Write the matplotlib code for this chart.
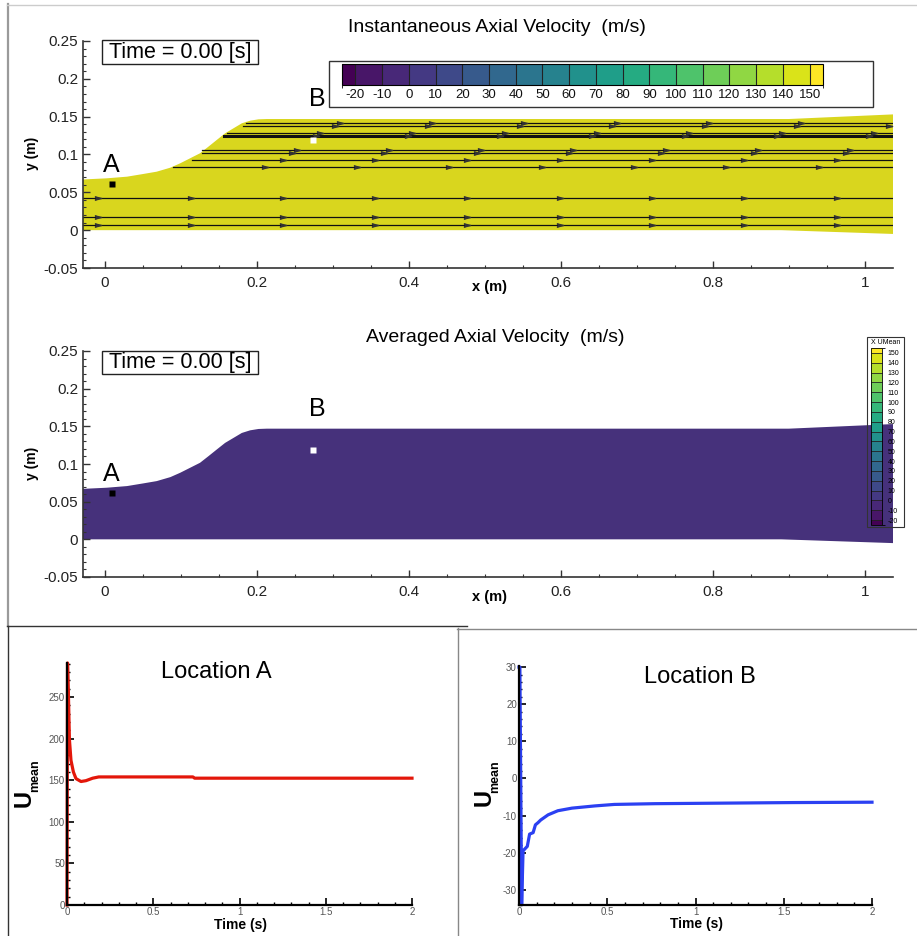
import numpy as np
import matplotlib
matplotlib.use('Agg')
import matplotlib.pyplot as plt
from matplotlib.colors import ListedColormap, BoundaryNorm
from matplotlib.cm import ScalarMappable
from matplotlib.lines import Line2D
from matplotlib.patches import Rectangle, Polygon
from matplotlib.path import Path
from matplotlib.ticker import MultipleLocator, FuncFormatter

plt.rcParams['font.family'] = ['Liberation Sans', 'DejaVu Sans']
plt.rcParams['axes.unicode_minus'] = False

# ---------------- data ----------------
wall_x = [-0.029, 0.002, 0.029, 0.050, 0.068, 0.086, 0.099, 0.112, 0.125, 0.136, 0.147,
          0.158, 0.169, 0.180, 0.191, 0.202, 0.213, 0.90, 1.037]
wall_top = [0.067, 0.0685, 0.0707, 0.0742, 0.0773, 0.0826, 0.0884, 0.0950, 0.1016, 0.1103,
            0.1192, 0.1280, 0.1346, 0.1412, 0.1447, 0.1465, 0.1469, 0.1469, 0.153]
wall_bot_x = [-0.029, 0.89, 1.037]
wall_bot = [0.0, 0.0, -0.005]

probe_A = (0.0088, 0.061)
probe_B = (0.274, 0.119)

stream_y = [0.0064, 0.018, 0.043, 0.083, 0.093, 0.102, 0.106, 0.125, 0.129, 0.138, 0.142]
stream_x0 = [-0.029, -0.029, -0.029, 0.089, 0.114, 0.127, 0.127, 0.157, 0.160, 0.182, 0.185]
stream_arrow0 = [-0.009, -0.009, -0.009, 0.0885, -0.009, 0.003, 0.009, 0.034, 0.040, 0.060, 0.066]
stream_thick = [0, 0, 0, 0, 0, 0, 0, 1, 0, 0, 0]

levels = [-20, -10, 0, 10, 20, 30, 40, 50, 60, 70, 80, 90, 100, 110, 120, 130, 140, 150]
level_ends = [-25, 155]

time_A = [0.0, 0.003, 0.008, 0.014, 0.023, 0.037, 0.052, 0.081, 0.11, 0.149, 0.184, 0.73, 0.74, 2.0]
u_A = [0.0, 291, 255, 199, 174, 160, 152, 148.5, 149.5, 152.5, 154, 154, 152.5, 152.5]

time_B = [0.0, 0.005, 0.015, 0.023, 0.047, 0.06, 0.08, 0.093, 0.108, 0.123, 0.165, 0.22, 0.30,
          0.43, 0.54, 0.77, 1.03, 1.55, 2.0]
u_B = [30.0, 30.0, -34.0, -19.5, -18.3, -15.0, -14.6, -12.5, -11.9, -11.2, -9.8, -8.7, -8.0,
       -7.4, -7.0, -6.8, -6.7, -6.5, -6.4]

# ---------------- layout helpers ----------------
W, H = 917, 936
fig = plt.figure(figsize=(W / 100, H / 100), dpi=100)


def rect(l, t, r, b):
    return [l / W, 1 - b / H, (r - l) / W, (b - t) / H]


def fline(x1, y1, x2, y2, color, lw):
    fig.add_artist(Line2D([x1 / W, x2 / W], [1 - y1 / H, 1 - y2 / H],
                          transform=fig.transFigure, color=color, lw=lw))


def ftext(x, y, s, **kw):
    return fig.text(x / W, 1 - y / H, s, **kw)


def fmt(v, p):
    v = round(v, 6) + 0.0
    if v == 0:
        return '0'
    return f'{v:g}'


chevron = Path([(-1, 0.5), (1, 0), (-1, -0.5), (-0.4, 0), (-1, 0.5)],
               [Path.MOVETO, Path.LINETO, Path.LINETO, Path.LINETO, Path.CLOSEPOLY])

cmap = ListedColormap(plt.cm.viridis(np.linspace(0, 1, len(levels) + 1)))
bounds = [level_ends[0]] + levels + [level_ends[1]]
norm = BoundaryNorm(bounds, cmap.N)

verts = list(zip(wall_x, wall_top)) + list(zip(wall_bot_x[::-1], wall_bot[::-1]))


def field_panel(top, bottom, face, streams):
    ax = fig.add_axes(rect(83, top, 893, bottom))
    ax.add_patch(Polygon(verts, closed=True, facecolor=face, edgecolor='none', zorder=1))
    ax.set_xlim(-0.029, 1.037)
    ax.set_ylim(-0.05, 0.25)
    for s in ('top', 'right'):
        ax.spines[s].set_visible(False)
    for s in ('left', 'bottom'):
        ax.spines[s].set_linewidth(1.2)
        ax.spines[s].set_color('#333333')
    ax.xaxis.set_major_locator(MultipleLocator(0.2))
    ax.xaxis.set_minor_locator(MultipleLocator(0.05))
    ax.yaxis.set_major_locator(MultipleLocator(0.05))
    ax.yaxis.set_minor_locator(MultipleLocator(0.01))
    ax.xaxis.set_major_formatter(FuncFormatter(fmt))
    ax.yaxis.set_major_formatter(FuncFormatter(fmt))
    ax.tick_params(which='major', direction='in', length=5, width=1, labelsize=11,
                   colors='#333333', labelcolor='#222222')
    ax.tick_params(which='minor', direction='in', length=2.5, width=0.8, colors='#333333')
    ax.tick_params(axis='x', pad=6)
    ax.set_facecolor('none')
    if streams:
        for y, x0, a0, thick in zip(stream_y, stream_x0, stream_arrow0, stream_thick):
            ax.plot([x0, 1.037], [y, y], color='#111111', lw=2.2 if thick else 0.9, zorder=2)
            ax_x = np.arange(a0, 1.037, 0.1215)
            ax_x = ax_x[ax_x > x0 + 0.005]
            ax.plot(ax_x, [y] * len(ax_x), linestyle='none', marker=chevron, ms=4.5,
                    color='#333333', zorder=3)
    ax.plot([probe_A[0]], [probe_A[1]], marker='s', ms=5, color='black', mec='none', zorder=4)
    ax.plot([probe_B[0]], [probe_B[1]], marker='s', ms=5, color='white', mec='none', zorder=4)
    ax.text(0.008, 0.0769, 'A', fontsize=18, ha='center', va='baseline', zorder=5)
    ax.text(0.280, 0.164, 'B', fontsize=18, ha='center', va='baseline', zorder=5)
    return ax


# ---------------- frames ----------------
fline(7.5, 4, 7.5, 626, '#9a9a9a', 1.6)
fline(7, 4.5, 917, 4.5, '#cccccc', 1.0)
fline(7, 626, 467, 626, '#333333', 1.0)
fline(7.5, 626, 7.5, 936, '#333333', 1.0)
fline(457, 628.5, 917, 628.5, '#888888', 1.0)
fline(457.5, 628, 457.5, 936, '#888888', 1.0)

# ---------------- top panel ----------------
ax1 = field_panel(41, 268, '#d9d61e', True)
ftext(497, 27, 'Instantaneous Axial Velocity  (m/s)', fontsize=14, ha='center', va='center')
ftext(32, 153, 'y (m)', fontsize=10, fontweight='bold', rotation=90, ha='center', va='center')
ftext(490, 287, 'x (m)', fontsize=10.5, fontweight='bold', ha='center', va='center')
fig.add_artist(Rectangle((101.5 / W, 1 - 63.5 / H), (258 - 101.5) / W, 23 / H,
                         transform=fig.transFigure, fill=False, ec='#222222', lw=1))
ftext(180, 52.5, 'Time = 0.00 [s]', fontsize=15.5, ha='center', va='center')

fig.add_artist(Rectangle((329 / W, 1 - 107 / H), (873 - 329) / W, 46 / H,
                         transform=fig.transFigure, fill=False, ec='#333333', lw=1))
cax = fig.add_axes(rect(342, 64, 823, 85))
cb = fig.colorbar(ScalarMappable(norm=norm, cmap=cmap), cax=cax, orientation='horizontal',
                  spacing='proportional', ticks=levels, drawedges=True)
cb.ax.tick_params(length=0, labelsize=9.5, pad=3, labelcolor='#111111')
cb.outline.set_linewidth(0.8)
cb.dividers.set_linewidth(0.8)
cb.dividers.set_color('#222222')

# ---------------- middle panel ----------------
ax2 = field_panel(351, 577, '#46317b', False)
ftext(495, 337, 'Averaged Axial Velocity  (m/s)', fontsize=14, ha='center', va='center')
ftext(32, 463, 'y (m)', fontsize=10, fontweight='bold', rotation=90, ha='center', va='center')
ftext(490, 597, 'x (m)', fontsize=10.5, fontweight='bold', ha='center', va='center')
fig.add_artist(Rectangle((101.5 / W, 1 - 373.5 / H), (258 - 101.5) / W, 23 / H,
                         transform=fig.transFigure, fill=False, ec='#222222', lw=1))
ftext(180, 362.5, 'Time = 0.00 [s]', fontsize=15.5, ha='center', va='center')

fig.add_artist(Rectangle((867 / W, 1 - 527 / H), (904 - 867) / W, 190 / H,
                         transform=fig.transFigure, fill=False, ec='#333333', lw=0.8))
ftext(885.5, 342, 'X UMean', fontsize=5, ha='center', va='center')
lax = fig.add_axes(rect(871, 348, 882, 525))
lb = fig.colorbar(ScalarMappable(norm=norm, cmap=cmap), cax=lax, orientation='vertical',
                  spacing='proportional', ticks=levels, drawedges=True)
lb.ax.tick_params(length=0, labelsize=5, pad=4)
lb.outline.set_linewidth(0.6)
lb.dividers.set_linewidth(0.6)
lb.dividers.set_color('#222222')


# ---------------- bottom panels ----------------
def series_panel(l, t, r, b, tt, uu, color, ylim, ymaj, ymin):
    ax = fig.add_axes(rect(l, t, r, b))
    ax.plot(tt, uu, color=color, lw=2.3, solid_joinstyle='round', clip_on=False)
    ax.set_xlim(0, 2)
    ax.set_ylim(*ylim)
    for s in ('top', 'right'):
        ax.spines[s].set_visible(False)
    for s in ('left', 'bottom'):
        ax.spines[s].set_linewidth(1.6)
        ax.spines[s].set_color('black')
    ax.xaxis.set_major_locator(MultipleLocator(0.5))
    ax.xaxis.set_minor_locator(MultipleLocator(0.1))
    ax.yaxis.set_major_locator(MultipleLocator(ymaj))
    ax.yaxis.set_minor_locator(MultipleLocator(ymin))
    ax.xaxis.set_major_formatter(FuncFormatter(fmt))
    ax.yaxis.set_major_formatter(FuncFormatter(fmt))
    ax.tick_params(which='major', direction='in', length=5, width=1.2, labelsize=7,
                   labelcolor='#555555', pad=1.5)
    ax.tick_params(which='minor', direction='in', length=2.5, width=1)
    ax.set_facecolor('none')
    return ax


axA = series_panel(67, 663, 412, 905, time_A, u_A, '#e3170a', (0, 291), 50, 10)
ftext(216, 672, 'Location A', fontsize=17, ha='center', va='center')
ftext(240, 925, 'Time (s)', fontsize=10, fontweight='bold', ha='center', va='center')
ftext(24, 798, 'U', fontsize=17, fontweight='bold', rotation=90, ha='center', va='center')
ftext(35, 776, 'mean', fontsize=9, fontweight='bold', rotation=90, ha='center', va='center')

axB = series_panel(519, 666, 872, 905, time_B, u_B, '#2b40f2', (-34.1, 30.3), 10, 2)
ftext(700, 677, 'Location B', fontsize=17, ha='center', va='center')
ftext(696, 924, 'Time (s)', fontsize=10, fontweight='bold', ha='center', va='center')
ftext(484, 797, 'U', fontsize=17, fontweight='bold', rotation=90, ha='center', va='center')
ftext(495.5, 777, 'mean', fontsize=9, fontweight='bold', rotation=90, ha='center', va='center')

fig.savefig('out.png', dpi=100, facecolor='white')
